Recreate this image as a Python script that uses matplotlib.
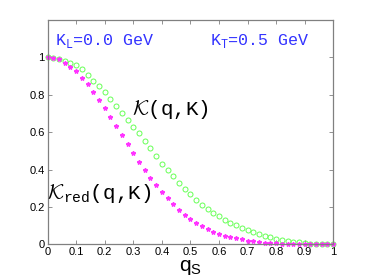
import numpy as np
import matplotlib
matplotlib.use('Agg')
import matplotlib.pyplot as plt

plt.rcParams['mathtext.cal'] = 'cmsy10'
plt.rcParams['mathtext.tt'] = 'Liberation Mono'
plt.rcParams['mathtext.sf'] = 'Liberation Sans'
plt.rcParams['mathtext.rm'] = 'Liberation Mono'

# q_s grid and the two curves
q = np.round(np.arange(0, 1.0001, 0.02), 2)
k_full = [1.0, 0.995, 0.99, 0.98, 0.972, 0.962, 0.937, 0.905, 0.876, 0.848,
          0.817, 0.777, 0.742, 0.705, 0.665, 0.63, 0.595, 0.552, 0.514, 0.475,
          0.432, 0.397, 0.366, 0.33, 0.297, 0.268, 0.238, 0.212, 0.19, 0.169,
          0.151, 0.131, 0.116, 0.102, 0.089, 0.077, 0.066, 0.055, 0.046, 0.037,
          0.030, 0.024, 0.018, 0.014, 0.010, 0.007, 0.004, 0.002, 0.001, 0.0, 0.0]
k_red = [1.0, 0.998, 0.99, 0.97, 0.951, 0.927, 0.89, 0.857, 0.816, 0.773,
         0.728, 0.682, 0.634, 0.584, 0.536, 0.487, 0.441, 0.396, 0.357, 0.316,
         0.28, 0.246, 0.214, 0.184, 0.157, 0.134, 0.114, 0.098, 0.080, 0.068,
         0.057, 0.046, 0.039, 0.032, 0.026, 0.020, 0.016, 0.012, 0.009, 0.007,
         0.005, 0.003, 0.002, 0.001, 0.0, 0.0, 0.0, 0.0, 0.0, 0.0, 0.0]

fig = plt.figure(figsize=(3.69, 2.8), dpi=100)
ax = fig.add_axes([0.129, 0.1275, 0.774, 0.801])

ax.plot(q, k_full, 'o', ms=3.6, mfc='none', mec='#66ff55', mew=0.7, clip_on=False)
ax.plot(q, k_red, '*', ms=3.2, color='#ff33ff', mec='#ff33ff', clip_on=False)

ax.set_xlim(0, 1)
ax.set_ylim(0, 1.2)
ax.set_xticks(np.arange(0, 1.01, 0.1))
ax.set_xticklabels(['0', '0.1', '0.2', '0.3', '0.4', '0.5', '0.6', '0.7', '0.8', '0.9', '1'])
ax.set_yticks([0, 0.2, 0.4, 0.6, 0.8, 1])
ax.set_yticklabels(['0', '0.2', '0.4', '0.6', '0.8', '1'])
ax.tick_params(direction='in', length=3, width=0.6, color='#808080',
               top=True, right=True, labelsize=8, pad=2)
for lab in ax.get_xticklabels() + ax.get_yticklabels():
    lab.set_family('Liberation Sans')
for s in ax.spines.values():
    s.set_color('#808080')
    s.set_linewidth(0.9)

ax.set_xlabel('q$_\\mathsf{S}$', fontsize=15, family='Liberation Sans',
              math_fontfamily='custom', labelpad=1)

mono = 'Liberation Mono'
ax.text(0.026, 1.067, 'K$_\\mathtt{L}$=0.0 GeV', color='#3333ff', fontsize=12,
        family=mono, math_fontfamily='custom', va='baseline')
ax.text(0.568, 1.067, 'K$_\\mathtt{T}$=0.5 GeV', color='#3333ff', fontsize=12,
        family=mono, math_fontfamily='custom', va='baseline')
ax.text(0.294, 0.69, '$\\mathcal{K}$(q,K)', fontsize=15, family=mono,
        math_fontfamily='custom', va='baseline')
ax.text(-0.003, 0.24, '$\\mathcal{K}_\\mathtt{red}$(q,K)', fontsize=15, family=mono,
        math_fontfamily='custom', va='baseline')

fig.savefig('out.png', dpi=100)
